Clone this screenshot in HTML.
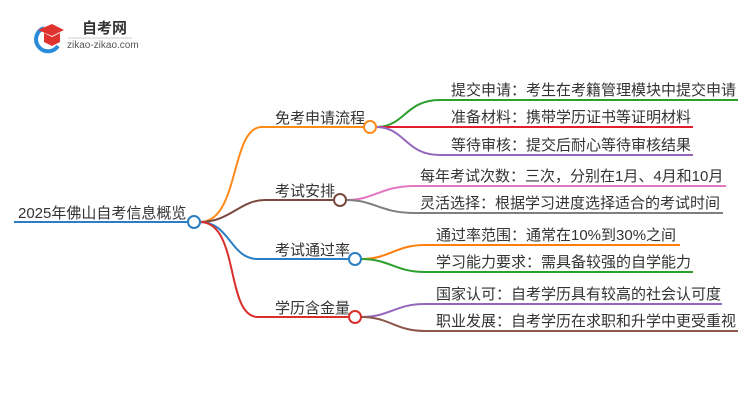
<!DOCTYPE html>
<html><head><meta charset="utf-8"><style>
body{margin:0;background:#fff;width:750px;height:410px;overflow:hidden}
svg text{font-family:"Liberation Sans","Noto Sans CJK SC",sans-serif;fill:#333}
</style></head><body>
<svg width="750" height="410" viewBox="0 0 750 410" fill="none" stroke-width="2">
<!-- logo -->
<path d="M44 28 A12 12 0 1 0 58 46" stroke="#2a8bd8" stroke-width="4"/>
<path d="M38 30 L52 24 L64 30 L52 36 Z" fill="#e0322f" stroke="none"/>
<path d="M44 33 L44 42 L52 46 L60 42 L60 33 L52 37 Z" fill="#e0322f" stroke="none"/>
<text x="82" y="33" font-size="15" font-weight="bold" style="fill:#333">自考网</text>
<line x1="68" y1="38" x2="132" y2="38" stroke="#ccc" stroke-width="1"/>
<text x="67" y="48" font-size="10" style="fill:#555">zikao-zikao.com</text>
<!-- root -->
<line x1="14" y1="222" x2="188" y2="222" stroke="#2a7fc4"/>
<text x="18" y="218" font-size="15">2025年佛山自考信息概览</text>
<!-- main branches -->
<path d="M200 222 C240 222 230 127 262 127 L364 127" stroke="#ff8a1c"/>
<path d="M200 222 C230 222 240 200 265 200 L334 200" stroke="#7b4a3f"/>
<path d="M200 222 C230 222 230 259 258 259 L349 259" stroke="#2a7fc4"/>
<path d="M200 222 C240 222 225 317 258 317 L349 317" stroke="#d9302b"/>
<text x="275" y="123" font-size="15">免考申请流程</text>
<text x="275" y="196" font-size="15">考试安排</text>
<text x="275" y="255" font-size="15">考试通过率</text>
<text x="275" y="313" font-size="15">学历含金量</text>
<!-- leaves -->
<path d="M376 127 C405 127 405 100 440 100 L738 100" stroke="#2ca02c"/>
<path d="M376 127 L693 127" stroke="#e0202e"/>
<path d="M376 127 C405 127 405 155 440 155 L693 155" stroke="#9467bd"/>
<path d="M346 200 C375 200 380 186 415 186 L726 186" stroke="#e377c2"/>
<path d="M346 200 C375 200 380 213 415 213 L723 213" stroke="#7f7f7f"/>
<path d="M361 259 C390 259 395 245 425 245 L680 245" stroke="#ff7f0e"/>
<path d="M361 259 C390 259 395 272 425 272 L693 272" stroke="#2ca02c"/>
<path d="M361 317 C390 317 395 304 425 304 L722 304" stroke="#9467bd"/>
<path d="M361 317 C390 317 395 331 425 331 L738 331" stroke="#8c564b"/>
<text x="451" y="95" font-size="15">提交申请：考生在考籍管理模块中提交申请</text>
<text x="451" y="122" font-size="15">准备材料：携带学历证书等证明材料</text>
<text x="451" y="150" font-size="15">等待审核：提交后耐心等待审核结果</text>
<text x="420" y="181" font-size="15">每年考试次数：三次，分别在1月、4月和10月</text>
<text x="420" y="208" font-size="15">灵活选择：根据学习进度选择适合的考试时间</text>
<text x="436" y="240" font-size="15">通过率范围：通常在10%到30%之间</text>
<text x="436" y="267" font-size="15">学习能力要求：需具备较强的自学能力</text>
<text x="436" y="299" font-size="15">国家认可：自考学历具有较高的社会认可度</text>
<text x="436" y="326" font-size="15">职业发展：自考学历在求职和升学中更受重视</text>
<!-- circles -->
<circle cx="194" cy="222" r="6" fill="#fff" stroke="#2a7fc4"/>
<circle cx="370" cy="127" r="6" fill="#fff" stroke="#ff8a1c"/>
<circle cx="340" cy="200" r="6" fill="#fff" stroke="#7b4a3f"/>
<circle cx="355" cy="259" r="6" fill="#fff" stroke="#2a7fc4"/>
<circle cx="355" cy="317" r="6" fill="#fff" stroke="#d9302b"/>
</svg>
</body></html>
